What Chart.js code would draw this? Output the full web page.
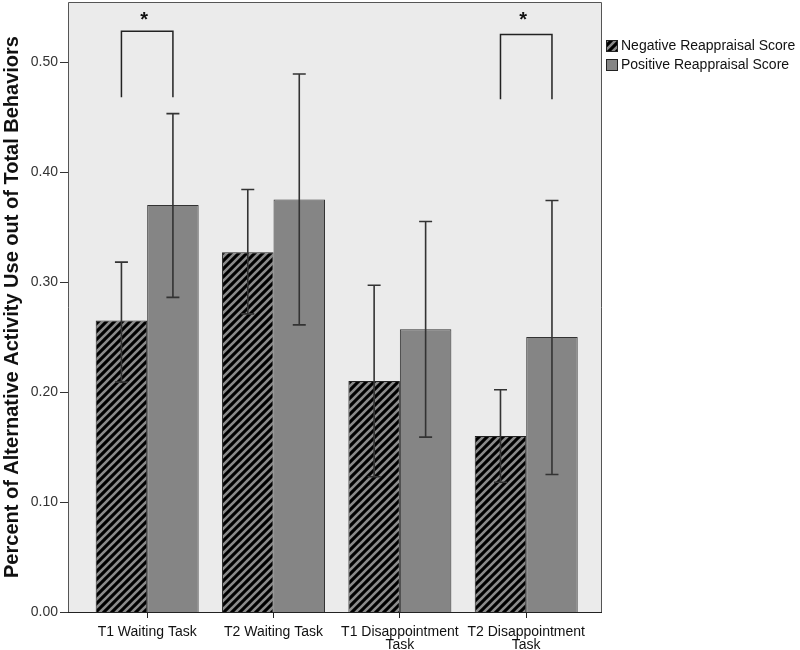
<!DOCTYPE html>
<html>
<head>
<meta charset="utf-8">
<script src="https://cdn.jsdelivr.net/npm/chart.js@4"></script>
<style>
  html, body { margin: 0; padding: 0; background: #ffffff; }
  #wrap { width: 800px; height: 650px; }
</style>
</head>
<body>
<div id="wrap"><canvas id="c" width="800" height="650"></canvas></div>
<script>
// ---- data ----
const categories = ["T1 Waiting Task", "T2 Waiting Task", ["T1 Disappointment", "Task"], ["T2 Disappointment", "Task"]];
const seriesNames = ["Negative Reappraisal Score", "Positive Reappraisal Score"];
const negMeans = [0.265, 0.327, 0.210, 0.160];
const negLower = [0.209, 0.271, 0.123, 0.118];
const negUpper = [0.318, 0.384, 0.297, 0.202];
const posMeans = [0.370, 0.375, 0.257, 0.250];
const posLower = [0.286, 0.261, 0.159, 0.125];
const posUpper = [0.453, 0.489, 0.355, 0.374];
const sigIndex = [0, 3];
const sigTop = [0.528, 0.525];
const sigBottom = [0.468, 0.466];
const sigStarY = [0.541, 0.541];
const yTickValues = [0.00, 0.10, 0.20, 0.30, 0.40, 0.50];
const yMin = 0, yMax = 0.5545;
const yTitle = "Percent of Alternative Activity Use out of Total Behaviors";

// ---- hatch pattern ----
function makeHatch(ctx) {
  const t = document.createElement('canvas');
  t.width = 8; t.height = 8;
  const g = t.getContext('2d');
  g.fillStyle = '#000000';
  g.fillRect(0, 0, 8, 8);
  g.strokeStyle = '#8a8a8a';
  g.lineWidth = 2.6;
  g.beginPath();
  g.moveTo(-1, 9); g.lineTo(9, -1);
  g.moveTo(-5, 5); g.lineTo(5, -5);
  g.moveTo(3, 13); g.lineTo(13, 3);
  g.stroke();
  return ctx.createPattern(t, 'repeat');
}
const canvas = document.getElementById('c');
const ctx0 = canvas.getContext('2d');
const hatch = makeHatch(ctx0);

const BOX = { left: 68, right: 601, top: 2 };
const FONT = '"Liberation Sans", Arial, sans-serif';

const decor = {
  id: 'decor',
  beforeDraw(chart) {
    const ctx = chart.ctx;
    const y = chart.scales.y;
    const bottom = y.getPixelForValue(0);
    ctx.save();
    ctx.fillStyle = '#ffffff';
    ctx.fillRect(0, 0, chart.width, chart.height);
    ctx.fillStyle = '#ebebeb';
    ctx.fillRect(BOX.left, BOX.top, BOX.right - BOX.left, bottom - BOX.top);
    ctx.strokeStyle = '#555555';
    ctx.lineWidth = 1;
    ctx.beginPath();
    ctx.moveTo(BOX.left + 0.5, bottom);
    ctx.lineTo(BOX.left + 0.5, BOX.top + 0.5);
    ctx.lineTo(BOX.right + 0.5, BOX.top + 0.5);
    ctx.lineTo(BOX.right + 0.5, bottom);
    ctx.stroke();
    ctx.restore();
  },
  afterDatasetsDraw(chart) {
    const ctx = chart.ctx;
    const y = chart.scales.y;
    const bottom = Math.round(y.getPixelForValue(0)) + 0.5;
    ctx.save();
    // axis line
    ctx.strokeStyle = '#222222';
    ctx.lineWidth = 1;
    ctx.beginPath();
    ctx.moveTo(BOX.left, bottom);
    ctx.lineTo(BOX.right + 1, bottom);
    ctx.stroke();
    // y tick marks
    ctx.strokeStyle = '#333333';
    yTickValues.forEach(v => {
      const py = Math.round(y.getPixelForValue(v)) + 0.5;
      ctx.beginPath();
      ctx.moveTo(BOX.left - 8, py);
      ctx.lineTo(BOX.left, py);
      ctx.stroke();
    });
    // error bars
    const lows = [negLower, posLower], ups = [negUpper, posUpper];
    ctx.strokeStyle = '#333333';
    ctx.lineWidth = 1.6;
    for (let d = 0; d < 2; d++) {
      const meta = chart.getDatasetMeta(d);
      meta.data.forEach((bar, i) => {
        const x = bar.x;
        const yl = y.getPixelForValue(lows[d][i]);
        const yu = y.getPixelForValue(ups[d][i]);
        ctx.beginPath();
        ctx.moveTo(x, yl); ctx.lineTo(x, yu);
        ctx.moveTo(x - 6.5, yl); ctx.lineTo(x + 6.5, yl);
        ctx.moveTo(x - 6.5, yu); ctx.lineTo(x + 6.5, yu);
        ctx.stroke();
      });
    }
    // significance brackets
    ctx.strokeStyle = '#222222';
    ctx.lineWidth = 1.5;
    ctx.fillStyle = '#111111';
    ctx.font = 'bold 20px ' + FONT;
    ctx.textAlign = 'center';
    ctx.textBaseline = 'middle';
    sigIndex.forEach((ci, k) => {
      const x1 = chart.getDatasetMeta(0).data[ci].x;
      const x2 = chart.getDatasetMeta(1).data[ci].x;
      const yt = y.getPixelForValue(sigTop[k]);
      const yb = y.getPixelForValue(sigBottom[k]);
      ctx.beginPath();
      ctx.moveTo(x1, yb); ctx.lineTo(x1, yt); ctx.lineTo(x2, yt); ctx.lineTo(x2, yb);
      ctx.stroke();
      const cx = chart.scales.x.getPixelForValue(ci);
      ctx.fillText('*', cx - 3, y.getPixelForValue(sigStarY[k]) + 4);
    });
    // legend
    ctx.font = '14px ' + FONT;
    ctx.textAlign = 'left';
    ctx.textBaseline = 'middle';
    const fills = [hatch, '#858585'];
    const ly = [40, 59];
    for (let d = 0; d < 2; d++) {
      ctx.fillStyle = fills[d];
      ctx.fillRect(606, ly[d], 12, 12);
      ctx.strokeStyle = '#222222';
      ctx.lineWidth = 1;
      ctx.strokeRect(606.5, ly[d] + 0.5, 11, 11);
      ctx.fillStyle = '#111111';
      ctx.fillText(seriesNames[d], 621, ly[d] + 6.5);
    }
    ctx.restore();
  }
};

new Chart(canvas, {
  type: 'bar',
  data: {
    labels: categories,
    datasets: [
      { label: seriesNames[0], data: negMeans, backgroundColor: hatch, borderColor: '#222222', borderWidth: 1,
        categoryPercentage: 0.815, barPercentage: 1.0 },
      { label: seriesNames[1], data: posMeans, backgroundColor: '#858585', borderColor: '#333333', borderWidth: 1,
        categoryPercentage: 0.815, barPercentage: 1.0 }
    ]
  },
  options: {
    responsive: false,
    animation: false,
    layout: { padding: { left: 0, right: 210.6, top: 2, bottom: 0 } },
    plugins: { legend: { display: false }, tooltip: { enabled: false } },
    scales: {
      x: {
        offset: true,
        grid: { display: true, offset: false, drawOnChartArea: false, drawTicks: true, tickLength: 6, color: '#222222' },
        border: { display: false },
        ticks: { color: '#111111', font: { size: 14, family: FONT, lineHeight: 0.95 }, padding: 7, maxRotation: 0, autoSkip: false },
        afterFit(s) { s.height = 38; s.paddingLeft = 0; s.paddingRight = 0; }
      },
      y: {
        type: 'linear',
        min: yMin, max: yMax,
        bounds: 'data',
        grid: { display: false, drawTicks: false },
        border: { display: false },
        afterBuildTicks(s) { s.ticks = yTickValues.map(v => ({ value: v })); },
        ticks: { padding: 26, color: '#333333',
          font: { size: 14, family: FONT }, callback: v => Number(v).toFixed(2) },
        title: { display: true, text: yTitle, color: '#111111', padding: { top: 0, bottom: 0 },
          font: { size: 20, weight: 'bold', family: FONT } },
        afterFit(s) { s.width = 84; s.paddingTop = 0; s.paddingBottom = 0; }
      }
    }
  },
  plugins: [decor]
});
</script>
</body>
</html>
